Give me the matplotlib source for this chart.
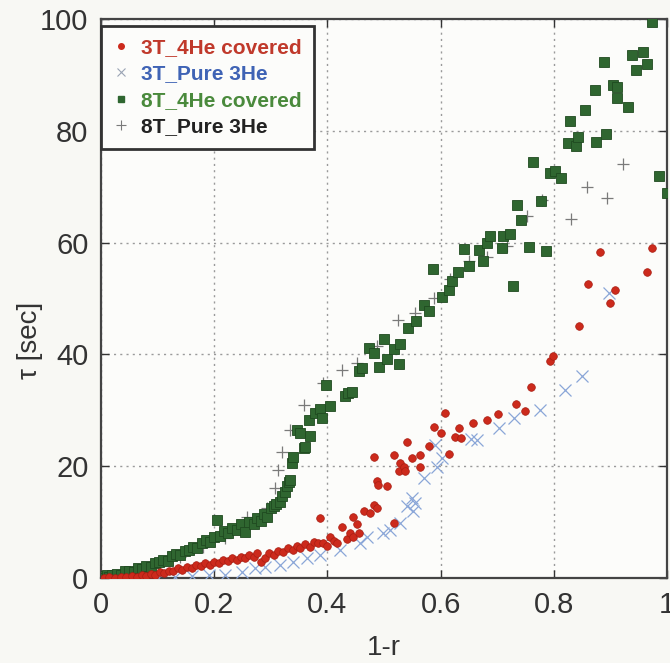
import matplotlib
matplotlib.use("Agg")
import matplotlib.pyplot as plt
from matplotlib.lines import Line2D

plt.rcParams['font.family'] = ['Liberation Sans', 'DejaVu Sans']

# 3T, 4He covered (red dots)
red_x = [0.005, 0.015, 0.025, 0.035, 0.045, 0.055, 0.063, 0.072, 0.080, 0.088,
         0.096, 0.104, 0.112, 0.120, 0.128, 0.136, 0.144, 0.152, 0.160, 0.168,
         0.176, 0.184, 0.192, 0.200, 0.208, 0.216, 0.224, 0.232, 0.240, 0.248,
         0.255, 0.262, 0.270, 0.276, 0.283, 0.290, 0.296, 0.305, 0.313, 0.322,
         0.330, 0.340, 0.346, 0.352, 0.360, 0.370, 0.377, 0.384, 0.387, 0.393,
         0.399, 0.405, 0.412, 0.417, 0.426, 0.434, 0.440, 0.446, 0.446, 0.452,
         0.455, 0.464, 0.476, 0.482, 0.488, 0.482, 0.488, 0.490, 0.505, 0.517,
         0.517, 0.526, 0.529, 0.535, 0.538, 0.541, 0.549, 0.564, 0.564, 0.579,
         0.588, 0.601, 0.607, 0.614, 0.626, 0.632, 0.636, 0.658, 0.682, 0.701,
         0.733, 0.749, 0.759, 0.794, 0.798, 0.845, 0.861, 0.882, 0.900, 0.909,
         0.965, 0.973]
red_y = [0.0, 0.1, 0.0, 0.2, 0.1, 0.3, 0.2, 0.5, 0.4, 0.8,
         0.6, 1.0, 0.9, 1.3, 1.2, 1.8, 1.5, 2.0, 1.8, 2.3,
         2.1, 2.6, 2.3, 2.9, 2.7, 3.2, 3.0, 3.5, 3.2, 3.8,
         3.5, 4.1, 3.8, 4.4, 2.9, 3.5, 4.4, 4.1, 4.9, 4.7,
         5.3, 5.0, 5.8, 5.3, 6.0, 5.6, 6.5, 6.2, 10.8, 6.3,
         5.7, 7.4, 6.6, 6.2, 9.2, 6.9, 8.0, 7.4, 11.0, 9.7,
         8.0, 11.9, 11.6, 13.1, 12.5, 21.6, 17.3, 16.7, 16.4, 9.8,
         22.0, 19.2, 20.6, 19.9, 19.1, 24.4, 21.5, 22.0, 19.8, 23.7,
         27.1, 26.0, 29.5, 22.2, 25.3, 26.9, 25.1, 27.8, 28.3, 29.4,
         31.2, 29.8, 34.1, 38.8, 39.8, 45.0, 52.6, 58.4, 49.2, 51.5,
         54.8, 59.1]

# 3T, pure 3He (blue crosses)
blue_x = [0.100, 0.130, 0.160, 0.190, 0.220, 0.250, 0.272, 0.290, 0.317, 0.340,
          0.364, 0.387, 0.423, 0.458, 0.470, 0.499, 0.511, 0.529, 0.541, 0.549,
          0.552, 0.555, 0.570, 0.591, 0.594, 0.602, 0.653, 0.664, 0.704, 0.729,
          0.776, 0.820, 0.850, 0.897]
blue_y = [0.0, 0.2, 0.3, 0.5, 0.6, 1.0, 1.8, 1.9, 2.3, 2.9,
          3.5, 4.1, 5.0, 6.2, 7.4, 8.0, 8.6, 9.8, 12.8, 14.3,
          11.9, 13.4, 17.9, 23.8, 19.9, 21.5, 24.9, 24.6, 26.9, 28.6,
          30.1, 33.7, 36.2, 50.9]

# 8T, 4He covered (green squares)
green_x = [0.000, 0.005, 0.010, 0.015, 0.020, 0.028, 0.035, 0.042, 0.050, 0.058,
           0.065, 0.072, 0.080, 0.088, 0.095, 0.102, 0.110, 0.118, 0.125, 0.132,
           0.140, 0.148, 0.155, 0.162, 0.170, 0.178, 0.185, 0.192, 0.200, 0.205,
           0.210, 0.218, 0.225, 0.232, 0.240, 0.248, 0.255, 0.262, 0.270, 0.276,
           0.282, 0.288, 0.294, 0.300, 0.305, 0.310, 0.316, 0.320, 0.325, 0.328,
           0.332, 0.334, 0.337, 0.340, 0.346, 0.352, 0.358, 0.361, 0.367, 0.370,
           0.378, 0.387, 0.390, 0.398, 0.405, 0.431, 0.437, 0.443, 0.455, 0.461,
           0.473, 0.482, 0.491, 0.500, 0.506, 0.517, 0.526, 0.529, 0.542, 0.556,
           0.571, 0.579, 0.586, 0.602, 0.615, 0.621, 0.631, 0.641, 0.650, 0.667,
           0.675, 0.682, 0.687, 0.709, 0.711, 0.723, 0.728, 0.735, 0.742, 0.757,
           0.786, 0.763, 0.778, 0.793, 0.802, 0.812, 0.825, 0.828, 0.839, 0.843,
           0.856, 0.872, 0.874, 0.888, 0.893, 0.904, 0.911, 0.912, 0.932, 0.938,
           0.945, 0.958, 0.964, 0.974, 0.986, 1.000]
green_y = [0.3, 0.0, 0.5, 0.2, 0.6, 0.8, 0.6, 1.2, 1.3, 1.1,
           1.8, 1.6, 2.2, 2.0, 2.7, 2.9, 3.3, 3.1, 3.9, 4.3,
           4.1, 4.9, 5.0, 5.6, 5.4, 6.3, 6.8, 6.5, 7.3, 10.3,
           7.6, 8.4, 8.0, 9.0, 8.6, 9.6, 8.2, 10.1, 9.6, 10.8,
           10.2, 11.5, 11.0, 12.6, 12.8, 13.2, 13.6, 14.6, 15.4, 16.4,
           17.2, 17.6, 20.6, 21.7, 26.5, 25.9, 23.2, 23.5, 28.3, 25.4,
           29.6, 30.2, 28.6, 34.6, 30.8, 32.5, 33.1, 33.2, 37.0, 37.6,
           41.1, 40.3, 37.8, 42.8, 39.2, 40.9, 38.2, 41.9, 44.7, 45.9,
           48.9, 47.7, 55.2, 50.3, 51.6, 53.1, 54.7, 58.8, 55.8, 58.6,
           56.7, 60.0, 61.2, 59.0, 61.2, 61.5, 52.3, 66.8, 64.0, 59.3,
           58.5, 74.4, 67.4, 72.4, 72.8, 71.6, 77.8, 81.7, 77.2, 78.9,
           83.8, 87.3, 78.0, 92.3, 79.4, 88.2, 85.9, 87.8, 84.3, 93.5,
           90.9, 94.1, 91.9, 99.4, 72.0, 68.9]

# 8T, pure 3He (grey pluses)
plus_x = [0.020, 0.060, 0.100, 0.140, 0.180, 0.220, 0.258, 0.293, 0.308, 0.313,
          0.320, 0.334, 0.358, 0.393, 0.426, 0.453, 0.488, 0.525, 0.555, 0.588,
          0.617, 0.650, 0.682, 0.717, 0.753, 0.779, 0.831, 0.859, 0.894, 0.922]
plus_y = [0.5, 1.5, 2.6, 3.8, 5.5, 7.2, 11.0, 12.5, 16.1, 19.4,
          22.6, 26.5, 31.0, 34.9, 37.3, 38.5, 41.5, 46.2, 47.4, 50.1,
          53.5, 56.7, 57.5, 59.4, 64.8, 67.6, 64.2, 70.0, 68.0, 74.0]

labels = ["3T_4He covered", "3T_Pure 3He", "8T_4He covered", "8T_Pure 3He"]
label_colors = ["#c0392b", "#3f63b5", "#4a8a3c", "#222222"]

red = "#cc2a1c"
blue = "#8aa6d8"
green = "#2f6630"
grey = "#7a7a7a"

fig = plt.figure(figsize=(6.7, 6.63), dpi=100, facecolor="#f8f8f4")
ax = fig.add_axes([0.1507, 0.1282, 0.8448, 0.8431])
ax.set_facecolor("#fcfcfa")

ax.plot(blue_x, blue_y, linestyle="none", marker="x", ms=8, mew=0.9,
        color=blue, zorder=3)
ax.plot(plus_x, plus_y, linestyle="none", marker="+", ms=9, mew=0.9,
        color=grey, zorder=3)
ax.plot(green_x, green_y, linestyle="none", marker="s", ms=6.5, mew=0.6,
        color=green, mec="#1f4a20", zorder=4)
ax.plot(red_x, red_y, linestyle="none", marker="o", ms=5.5, mew=0.5,
        color=red, mec="#a81d12", zorder=5)

ax.set_xlim(0, 1)
ax.set_ylim(0, 100)
ax.set_xticks([0, 0.2, 0.4, 0.6, 0.8, 1])
ax.set_xticklabels(["0", "0.2", "0.4", "0.6", "0.8", "1"])
ax.set_yticks([0, 20, 40, 60, 80, 100])
ax.tick_params(direction="in", length=6, width=1, top=True, right=True,
               labelsize=21, colors="#333333", pad=9)
ax.grid(True, linestyle=(0, (1.5, 3)), color="#9a9a9a", linewidth=1)
for sp in ax.spines.values():
    sp.set_color("#444444")
    sp.set_linewidth(1.6)

ax.set_xlabel("1-r", fontsize=20, color="#333333", labelpad=12)
# y label sits a little below the axis centre
fig.text(0.045, 0.487, "\u03c4 [sec]", rotation=90, fontsize=20,
         color="#333333", ha="center", va="center")

handles = [
    Line2D([], [], linestyle="none", marker="o", ms=4, color=red, mec=red),
    Line2D([], [], linestyle="none", marker="x", ms=6, mew=0.8, color="#9aa4b4"),
    Line2D([], [], linestyle="none", marker="s", ms=5, color=green, mec=green),
    Line2D([], [], linestyle="none", marker="+", ms=7, mew=0.8, color=grey),
]
leg = ax.legend(handles, labels, loc="upper left", bbox_to_anchor=(0.0, 0.988),
                borderaxespad=0, frameon=True, fancybox=False,
                prop={"weight": "bold", "size": 15}, handlelength=0.7,
                handletextpad=0.6, labelspacing=0.35, borderpad=0.6)
leg.get_frame().set_edgecolor("#333333")
leg.get_frame().set_linewidth(2)
leg.get_frame().set_facecolor("#fcfcfa")
leg.get_frame().set_alpha(1)
for txt, c in zip(leg.get_texts(), label_colors):
    txt.set_color(c)

fig.savefig("out.png", dpi=100, facecolor=fig.get_facecolor())
